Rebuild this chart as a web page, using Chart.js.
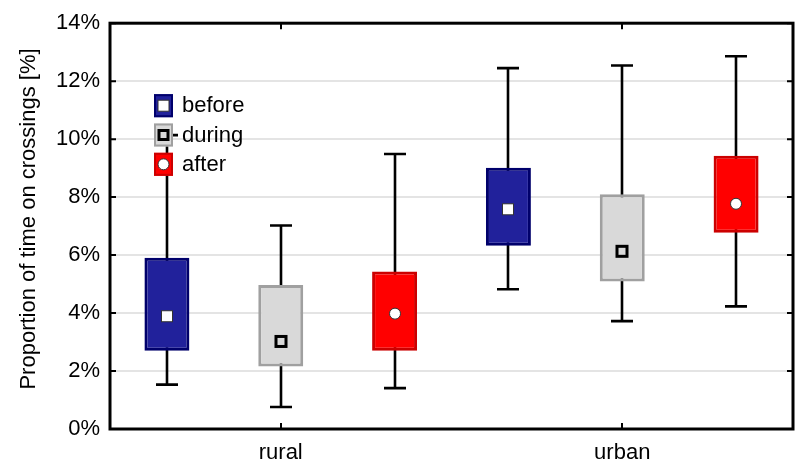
<!DOCTYPE html>
<html>
<head>
<meta charset="utf-8">
<script src="https://cdn.jsdelivr.net/npm/chart.js@4.4.1/dist/chart.umd.min.js"></script>
<style>
  html, body { margin: 0; padding: 0; background: #fff; }
  canvas { display: block; }
</style>
</head>
<body>
<canvas id="chart" width="796" height="463"></canvas>
<script>
// --- data (percent) ---
const categories = ['rural', 'urban']
const seriesNames = ['before', 'during', 'after']
const yTicks = [0, 2, 4, 6, 8, 10, 12, 14]
const yTitle = 'Proportion of time on crossings [%]'

// interquartile boxes [q1, q3]
const beforeBox = [[2.70, 5.91], [6.32, 9.01]]
const duringBox = [[2.16, 4.97], [5.09, 8.10]]
const afterBox = [[2.70, 5.43], [6.77, 9.43]]

// whiskers [min, max]
const beforeWhisker = [[1.53, 10.14], [4.82, 12.45]]
const duringWhisker = [[0.76, 7.02], [3.72, 12.54]]
const afterWhisker = [[1.41, 9.49], [4.23, 12.86]]

// medians
const beforeMedian = [3.89, 7.58]
const duringMedian = [3.02, 6.13]
const afterMedian = [3.98, 7.77]

const boxes = [beforeBox, duringBox, afterBox]
const whiskers = [beforeWhisker, duringWhisker, afterWhisker]
const medians = [beforeMedian, duringMedian, afterMedian]

// --- styles ---
const FONT = '"Liberation Sans", Arial, sans-serif'
const looks = [
  { fill: '#21219b', border: '#00006b', mark: 'square', mFill: '#ffffff', mBorder: '#333333', mLine: 1, mSize: 12 },
  { fill: '#d9d9d9', border: '#a0a0a0', mark: 'square', mFill: '#d9d9d9', mBorder: '#000000', mLine: 3, mSize: 13 },
  { fill: '#ff0000', border: '#cc0000', mark: 'circle', mFill: '#ffffff', mBorder: '#333333', mLine: 1, mSize: 12 },
]

const drawMarker = (ctx, look, x, y, size) => {
  ctx.save()
  ctx.fillStyle = look.mFill
  ctx.strokeStyle = look.mBorder
  ctx.lineWidth = look.mLine
  if (look.mark === 'circle') {
    ctx.beginPath()
    ctx.arc(x, y, size / 2 - 0.5, 0, Math.PI * 2)
    ctx.fill()
    ctx.stroke()
  } else {
    const s = size - look.mLine
    ctx.fillRect(x - s / 2, y - s / 2, s, s)
    ctx.strokeRect(x - s / 2, y - s / 2, s, s)
  }
  ctx.restore()
}

// whiskers under the boxes, medians / frame / legend on top
const boxPlotPlugin = {
  id: 'boxplot',
  beforeDatasetsDraw: (chart) => {
    const ctx = chart.ctx
    const y = chart.scales.y
    ctx.save()
    ctx.strokeStyle = '#000'
    ctx.lineWidth = 2.6
    whiskers.forEach((w, i) => {
      chart.getDatasetMeta(i).data.forEach((bar, j) => {
        const x = Math.round(bar.x)
        const lo = y.getPixelForValue(w[j][0])
        const hi = y.getPixelForValue(w[j][1])
        ctx.beginPath()
        ctx.moveTo(x, lo)
        ctx.lineTo(x, hi)
        ctx.moveTo(x - 11, lo)
        ctx.lineTo(x + 11, lo)
        ctx.moveTo(x - 11, hi)
        ctx.lineTo(x + 11, hi)
        ctx.stroke()
      })
    })
    ctx.restore()
  },
  afterDatasetsDraw: (chart) => {
    const ctx = chart.ctx
    const y = chart.scales.y
    const x = chart.scales.x
    const a = chart.chartArea

    // medians
    medians.forEach((m, i) => {
      chart.getDatasetMeta(i).data.forEach((bar, j) => {
        drawMarker(ctx, looks[i], Math.round(bar.x), y.getPixelForValue(m[j]), looks[i].mSize)
      })
    })

    // frame with inside ticks
    ctx.save()
    ctx.strokeStyle = '#000'
    ctx.lineWidth = 3
    ctx.strokeRect(a.left, a.top, a.right - a.left, a.bottom - a.top)
    ctx.lineWidth = 2
    ctx.beginPath()
    yTicks.forEach((t) => {
      const py = y.getPixelForValue(t)
      ctx.moveTo(a.left, py)
      ctx.lineTo(a.left + 6, py)
      ctx.moveTo(a.right, py)
      ctx.lineTo(a.right - 6, py)
    })
    categories.forEach((c, j) => {
      const px = Math.round(x.getPixelForValue(j))
      ctx.moveTo(px, a.top)
      ctx.lineTo(px, a.top + 6)
      ctx.moveTo(px, a.bottom)
      ctx.lineTo(px, a.bottom - 6)
    })
    ctx.stroke()
    ctx.restore()

    // y title (rotated)
    ctx.save()
    ctx.translate(29, 219)
    ctx.rotate(-Math.PI / 2)
    ctx.font = '22px ' + FONT
    ctx.fillStyle = '#000'
    ctx.textAlign = 'center'
    ctx.textBaseline = 'middle'
    ctx.fillText(yTitle, 0, 0)
    ctx.restore()

    // legend
    const lx = a.left + 44
    const ly = a.top + 71
    ctx.save()
    ctx.font = '22px ' + FONT
    ctx.textBaseline = 'middle'
    ctx.textAlign = 'left'
    seriesNames.forEach((name, i) => {
      const look = looks[i]
      const top = ly + i * 29.3
      ctx.fillStyle = look.fill
      ctx.fillRect(lx, top, 19, 23)
      ctx.strokeStyle = look.border
      ctx.lineWidth = 2
      ctx.strokeRect(lx + 1, top + 1, 17, 21)
      drawMarker(ctx, look, lx + 9.5, top + 11.5, 12)
      ctx.fillStyle = '#000'
      ctx.fillText(name, lx + 28, top + 12)
    })
    ctx.restore()
  },
}

const datasets = boxes.map((b, i) => ({
  label: seriesNames[i],
  data: b,
  backgroundColor: looks[i].fill,
  borderColor: looks[i].border,
  borderWidth: 3,
  borderSkipped: false,
  barPercentage: 0.395,
  categoryPercentage: 1,
}))

new Chart(document.getElementById('chart'), {
  type: 'bar',
  data: { labels: categories, datasets },
  plugins: [boxPlotPlugin],
  options: {
    responsive: false,
    animation: false,
    layout: { padding: { top: 19, right: 3, left: 0, bottom: 0 } },
    plugins: { legend: { display: false }, tooltip: { enabled: false } },
    scales: {
      x: {
        grid: { display: false, drawTicks: false },
        border: { display: false },
        ticks: { color: '#000', font: { size: 22, family: FONT }, padding: 11 },
        afterFit: (s) => { s.height = 34 },
      },
      y: {
        min: 0,
        max: 14,
        grid: { color: '#e4e4e4', lineWidth: 2, drawTicks: false },
        border: { display: false },
        afterBuildTicks: (s) => { s.ticks = yTicks.map((v) => ({ value: v })) },
        ticks: {
          color: '#000',
          font: { size: 22, family: FONT },
          padding: 10,
          callback: (v) => v + '%',
        },
        afterFit: (s) => { s.width = 110 },
      },
    },
  },
})
</script>
</body>
</html>
